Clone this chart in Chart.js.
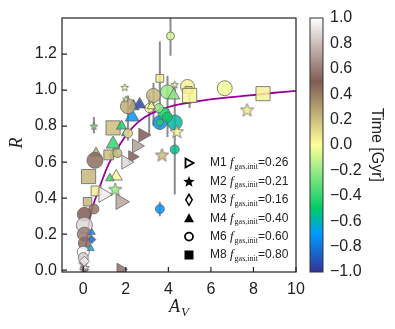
<!DOCTYPE html>
<html><head><meta charset="utf-8">
<script src="https://cdn.jsdelivr.net/npm/chart.js@4"></script>
<style>html,body{margin:0;padding:0;background:#fff}canvas{display:block}</style>
</head><body>
<canvas id="c" width="395" height="329"></canvas>
<script>
// data
const av    = [4.1,3.6,3.3,3.96,4.25,4.3,4.9,4.95,5.0,6.65,8.45,7.7,3.6,3.6,4.3,3.8,3.95,3.55,3.1,2.65,2.35,2.3,3.2,2.1,1.95,2.0,0.5,1.4,1.8,2.0,2.1,2.8,2.5,1.4,1.45,0.6,0.55,1.2,1.6,2.3,2.0,1.55,1.25,0.25,0.6,0.95,1.5,1.75,0.2,0.5,0.05,0.05,0.05,0.05,0.0,0.0,0.0,0.05,0.1,0.05,0.4,0.4,0.35,1.75,3.7,4.3,3.6,4.4];
const ratio = [1.30,1.065,0.97,0.99,0.97,1.03,1.02,1.0,0.97,1.01,0.98,0.89,0.82,0.82,0.82,0.87,0.85,0.90,0.90,0.92,0.91,0.85,0.91,0.91,1.015,0.95,0.80,0.79,0.80,0.76,0.76,0.75,0.69,0.70,0.65,0.65,0.61,0.64,0.65,0.63,0.60,0.52,0.51,0.52,0.44,0.42,0.45,0.38,0.38,0.34,0.31,0.25,0.20,0.15,0.10,0.07,0.035,0.0,0.015,0.05,0.21,0.17,0.12,0.005,0.64,0.67,0.34,0.77];
const timeGyr = [-0.08,0.05,0.22,-0.2,-0.22,0.05,0.04,0.15,0.02,-0.03,0.04,0.06,-0.72,-0.45,-0.58,-0.45,-0.5,-0.22,-0.02,-0.95,-0.9,-0.72,0.0,0.25,0.02,0.05,-0.25,0.2,-0.45,-0.72,0.1,0.5,0.7,-0.4,-0.35,0.25,0.45,0.2,0.2,0.5,0.88,0.02,-0.4,0.22,0.05,0.95,-0.2,0.72,0.22,0.42,0.5,0.88,0.6,0.55,1.0,0.85,0.6,0.5,0.9,0.95,-0.75,-0.85,-0.65,0.55,0.2,-0.55,-0.72,0.05];
const model = [6,8,6,6,4,2,6,8,8,6,8,2,6,6,6,6,6,6,6,4,4,4,4,6,2,2,2,8,4,4,6,1,1,4,4,4,6,8,6,1,1,4,4,8,8,1,2,1,8,6,6,6,6,6,6,6,2,2,2,3,4,3,4,1,2,6,6,2];

// error bars
const errAv = [4.1,3.6,3.3,3.96,3.1,4.3,5.0,2.1,0.5,4.3,3.6];
const errLo = [1.19,0.78,0.80,0.74,0.75,0.62,0.90,0.72,0.76,0.42,0.30];
const errHi = [1.45,1.27,1.04,1.08,0.97,1.02,1.00,0.97,0.85,0.95,0.38];

// fitted curve
const curveAv = [0,0.15,0.34,0.77,1.2,1.79,2.3,2.9,3.6,4.5,5.5,6.5,7.8,9,10];
const curveR  = [0,0.15,0.31,0.46,0.59,0.71,0.79,0.85,0.89,0.92,0.94,0.955,0.97,0.985,0.995];

const xTicks = [0,2,4,6,8,10];
const yTicks = [0,0.2,0.4,0.6,0.8,1.0,1.2];
const cbTicks = [-1,-0.8,-0.6,-0.4,-0.2,0,0.2,0.4,0.6,0.8,1];
const legendModels = ['M1','M2','M3','M4','M6','M8'];
const legendFgas = ['0.26','0.21','0.16','0.40','0.60','0.80'];

// marker sizes (px) per point
const markerSize = [4,5.5,7,7,7,4,7,5,10,7.5,10,7,7,3.5,7.5,6,5,4.5,4.5,7,7,8,5,7.5,4,3.5,4,10,6,5,4.5,8,8,8,6,6,8,7,4.5,7,8,7,5,10,7,9,7,9,6,5,7,8,7,6,6,5,5,5,4,5,4,4,4,7,7,4.5,4.5,7];

const terrain = [[0,[51,51,153]],[0.15,[0,153,255]],[0.25,[0,204,102]],[0.5,[255,255,153]],[0.75,[128,92,84]],[1,[255,255,255]]];
function cmap(v, a) {
  const t = Math.min(1, Math.max(0, (v + 1) / 2));
  for (let i = 1; i < terrain.length; i++) {
    if (t <= terrain[i][0]) {
      const [t0, c0] = terrain[i-1], [t1, c1] = terrain[i];
      const f = (t - t0) / (t1 - t0);
      const c = c0.map((c, k) => Math.round(c + (c1[k] - c) * f));
      return `rgba(${c[0]},${c[1]},${c[2]},${a})`;
    }
  }
}

function starImg(r, fill, stroke) {
  const cv = document.createElement('canvas');
  const s = Math.ceil(2 * r + 3);
  cv.width = s; cv.height = s;
  const c = cv.getContext('2d');
  starPath(c, s / 2, s / 2 + r * 0.08, r);
  c.fillStyle = fill; c.fill();
  c.lineWidth = 0.8; c.strokeStyle = stroke; c.stroke();
  return cv;
}
function starPath(c, x, y, r) {
  c.beginPath();
  for (let i = 0; i < 10; i++) {
    const rr = i % 2 ? r * 0.42 : r;
    const a = -Math.PI / 2 + i * Math.PI / 5;
    c.lineTo(x + rr * Math.cos(a), y + rr * Math.sin(a));
  }
  c.closePath();
}

const styleOf = {1: 'triangle', 3: 'rectRot', 4: 'triangle', 6: 'circle', 8: 'rect'};
const pts = av.map((x, i) => ({x: x, y: ratio[i]}));
const fills = timeGyr.map(t => cmap(t, 0.85));
const pStyles = model.map((m, i) => m === 2 ? starImg(markerSize[i], fills[i], '#666') : styleOf[m]);
const pRot = model.map(m => m === 1 ? 90 : 0);

const errData = [];
errAv.forEach((x, i) => { errData.push({x: x, y: errLo[i]}, {x: x, y: errHi[i]}, {x: x, y: null}); });

const decor = {
  id: 'decor',
  afterDraw(chart) {
    const {ctx, chartArea: a, scales: {x, y}} = chart;
    ctx.save();
    ctx.strokeStyle = '#222'; ctx.lineWidth = 1.2;
    ctx.strokeRect(a.left, a.top, a.right - a.left, a.bottom - a.top);
    ctx.beginPath();
    xTicks.forEach(v => { const px = x.getPixelForValue(v); ctx.moveTo(px, a.bottom); ctx.lineTo(px, a.bottom - 5); });
    yTicks.forEach(v => { const py = y.getPixelForValue(v); ctx.moveTo(a.left, py); ctx.lineTo(a.left + 5, py); });
    ctx.stroke();

    // colorbar
    const bx = a.right + 14, bw = 13;
    const g = ctx.createLinearGradient(0, a.bottom, 0, a.top);
    terrain.forEach(s => g.addColorStop(s[0], `rgb(${s[1].join(',')})`));
    ctx.fillStyle = g;
    ctx.fillRect(bx, a.top, bw, a.bottom - a.top);
    ctx.lineWidth = 1; ctx.strokeStyle = '#333';
    ctx.strokeRect(bx, a.top, bw, a.bottom - a.top);

    ctx.fillStyle = '#222';
    ctx.font = '16px "Liberation Sans", Arial, sans-serif';
    ctx.textAlign = 'center'; ctx.textBaseline = 'middle';
    ctx.save();
    ctx.translate(376, (a.top + a.bottom) / 2);
    ctx.rotate(Math.PI / 2);
    ctx.fillText('Time [Gyr]', 0, 0);
    ctx.restore();

    // axis titles
    ctx.font = 'italic 18px "Liberation Serif", "Times New Roman", serif';
    ctx.textBaseline = 'alphabetic'; ctx.textAlign = 'left';
    const cx = (a.left + a.right) / 2;
    ctx.fillText('A', cx - 10, 312);
    ctx.font = 'italic 13px "Liberation Serif", serif';
    ctx.fillText('V', cx + 2, 316);
    ctx.save();
    ctx.translate(22, 143);
    ctx.rotate(-Math.PI / 2);
    ctx.font = 'italic 18px "Liberation Serif", serif';
    ctx.textAlign = 'center';
    ctx.fillText('R', 0, 0);
    ctx.restore();

    // legend
    const lx = 189, ly0 = 163, dy = 18.4;
    legendModels.forEach((name, i) => {
      const yy = ly0 + i * dy;
      ctx.fillStyle = '#000'; ctx.strokeStyle = '#000'; ctx.lineWidth = 1.8;
      ctx.beginPath();
      if (i === 0) { ctx.moveTo(lx - 3.5, yy - 4.5); ctx.lineTo(lx + 4.5, yy); ctx.lineTo(lx - 3.5, yy + 4.5); ctx.closePath(); ctx.stroke(); }
      else if (i === 1) { starPath(ctx, lx, yy + 0.5, 6); ctx.fill(); }
      else if (i === 2) { ctx.lineWidth = 1.5; ctx.moveTo(lx, yy - 5.5); ctx.lineTo(lx + 3.2, yy); ctx.lineTo(lx, yy + 5.5); ctx.lineTo(lx - 3.2, yy); ctx.closePath(); ctx.stroke(); }
      else if (i === 3) { ctx.moveTo(lx, yy - 5); ctx.lineTo(lx + 5, yy + 4); ctx.lineTo(lx - 5, yy + 4); ctx.closePath(); ctx.fill(); }
      else if (i === 4) { ctx.arc(lx, yy, 4, 0, Math.PI * 2); ctx.stroke(); }
      else { ctx.rect(lx - 4.5, yy - 4.5, 9, 9); ctx.fill(); }

      ctx.fillStyle = '#222'; ctx.textBaseline = 'middle'; ctx.textAlign = 'left';
      let tx = 210;
      ctx.font = '12px "Liberation Sans", Arial, sans-serif';
      ctx.fillText(name + ' ', tx, yy);
      tx += ctx.measureText(name + ' ').width;
      ctx.font = 'italic 13px "Liberation Serif", serif';
      ctx.fillText('f', tx, yy);
      tx += ctx.measureText('f').width + 1;
      ctx.font = '8px "Liberation Serif", serif';
      ctx.fillText('gas,init', tx, yy + 4);
      tx += ctx.measureText('gas,init').width;
      ctx.font = '12px "Liberation Sans", Arial, sans-serif';
      ctx.fillText('=' + legendFgas[i], tx, yy);
    });
    ctx.restore();
  }
};

const noPad = s => { s.paddingTop = 0; s.paddingBottom = 0; s.paddingLeft = 0; s.paddingRight = 0; };

new Chart(document.getElementById('c'), {
  type: 'scatter',
  data: {
    datasets: [
      {
        label: 'points', data: pts, order: 1,
        pointStyle: pStyles, pointRotation: pRot, pointRadius: markerSize, pointHoverRadius: markerSize,
        backgroundColor: fills, borderColor: '#666', borderWidth: 0.8
      },
      {
        label: 'fit', type: 'line', data: curveAv.map((x, i) => ({x: x, y: curveR[i]})), order: 2,
        borderColor: '#990099', borderWidth: 1.8, pointRadius: 0, tension: 0.4, fill: false
      },
      {
        label: 'err', type: 'line', data: errData, order: 3, spanGaps: false,
        borderColor: '#8c8c8c', borderWidth: 2, pointRadius: 0, fill: false
      }
    ]
  },
  options: {
    responsive: false, animation: false, events: [],
    layout: {padding: {top: 18, left: 0, right: 0, bottom: 0}},
    plugins: {legend: {display: false}, tooltip: {enabled: false}},
    scales: {
      x: {
        type: 'linear', position: 'bottom', min: -1, max: 10,
        afterBuildTicks: s => { s.ticks = xTicks.map(v => ({value: v})); },
        afterFit: s => { s.height = 57; noPad(s); },
        grid: {display: false, drawTicks: false}, border: {display: false},
        ticks: {padding: 8, color: '#222', font: {size: 16, family: '"Liberation Sans", Arial, sans-serif'}, callback: v => String(v)}
      },
      y: {
        type: 'linear', position: 'left', min: -0.01, max: 1.40,
        afterBuildTicks: s => { s.ticks = yTicks.map(v => ({value: v})); },
        afterFit: s => { s.width = 62; noPad(s); },
        grid: {display: false, drawTicks: false}, border: {display: false},
        ticks: {padding: 5, color: '#222', font: {size: 16, family: '"Liberation Sans", Arial, sans-serif'}, callback: v => v.toFixed(1)}
      },
      cb: {
        type: 'linear', position: 'right', min: -1, max: 1,
        afterBuildTicks: s => { s.ticks = cbTicks.map(v => ({value: v})); },
        afterFit: s => { s.width = 99; noPad(s); },
        grid: {display: false, drawTicks: false}, border: {display: false},
        ticks: {padding: 34, color: '#222', font: {size: 16, family: '"Liberation Sans", Arial, sans-serif'},
          callback: v => v.toFixed(1).replace('-', '\u2212')}
      }
    }
  },
  plugins: [decor]
});
</script>
</body></html>
